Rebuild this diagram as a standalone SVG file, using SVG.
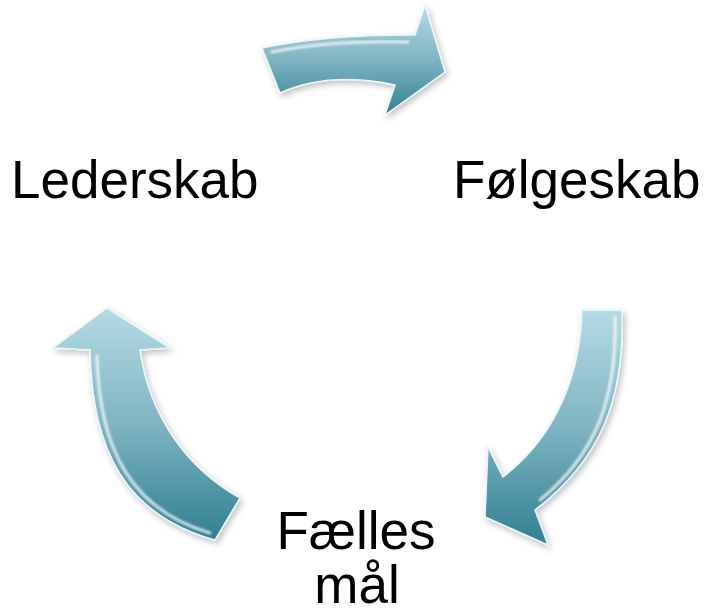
<svg xmlns="http://www.w3.org/2000/svg" width="707" height="615" viewBox="0 0 707 615">
<style>
.lbl{font-family:"Liberation Sans",Arial,sans-serif;font-size:53px;fill:#000}
.arr{stroke:#eaf7fa;stroke-width:1.5;stroke-linejoin:miter;filter:url(#sh)}
.hl{fill:none;stroke:#ffffff;stroke-opacity:.75;stroke-width:3;stroke-linecap:round;filter:url(#bl)}
</style>
<defs>
<linearGradient id="g" x1="0" y1="0" x2="0" y2="1">
<stop offset="0" stop-color="#b5dbe4"/>
<stop offset="0.5" stop-color="#7fb4c2"/>
<stop offset="1" stop-color="#2f7f91"/>
</linearGradient>
<filter id="sh" x="-20%" y="-20%" width="140%" height="140%">
<feDropShadow dx="2" dy="3" stdDeviation="3" flood-color="#000" flood-opacity="0.25"/>
</filter>
<filter id="bl"><feGaussianBlur stdDeviation="1"/></filter>
</defs>
<rect width="707" height="615" fill="#fff"/>
<g id="connectors">
<g id="arrow-top">
<path class="arr" fill="url(#g)" d="M262,48 Q327.5,34.5 415,35 L425,5 L445,72 L385,115 L395,85 Q328.5,71 280,93 Z"/>
<path class="hl" d="M272,52 Q330,40 408,42"/>
</g>
<g id="arrow-right">
<path class="arr" fill="url(#g)" d="M582,310 L622,310 C625,400 600,460 535,510 L548,545 L485,517 L488,447 L503,477 C545,445 580,390 582,310 Z"/>
<path class="hl" d="M615,318 C617,400 595,455 540,500"/>
</g>
<g id="arrow-left">
<path class="arr" fill="url(#g)" d="M240,498 C190,470 150,420 140,350 L170,348 L107,308 L53,348 L90,350 C92,450 125,515 215,540 Z"/>
<path class="hl" d="M97,356 C99,450 132,510 210,533"/>
</g>
</g>
<g id="node-lederskab"><text class="lbl" x="11" y="198">Lederskab</text></g>
<g id="node-folgeskab"><text class="lbl" x="453" y="198">Følgeskab</text></g>
<g id="node-faelles-maal"><text class="lbl" text-anchor="middle" x="356" y="549">Fælles</text><text class="lbl" text-anchor="middle" x="357" y="603">mål</text></g>
</svg>
